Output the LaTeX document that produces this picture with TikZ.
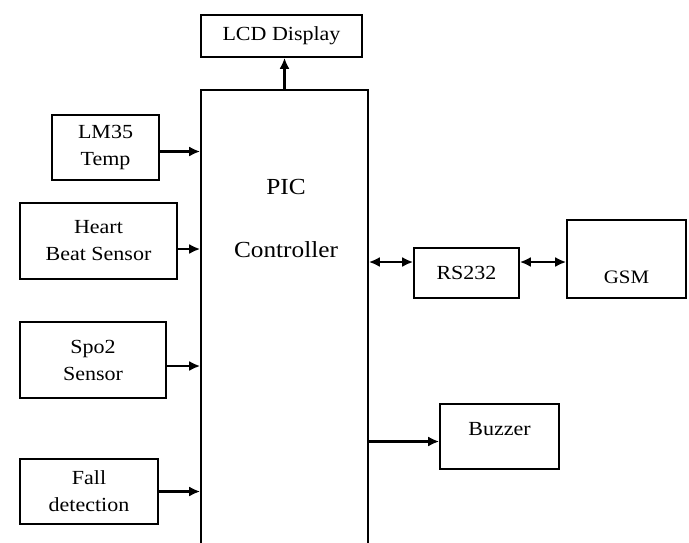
\documentclass[tikz,border=0pt]{standalone}
\usepackage{fontspec}
\setmainfont[FakeStretch=1.1]{Liberation Serif}
\usetikzlibrary{positioning,arrows.meta}
\tikzset{
  blk/.style={draw,line width=1.6pt,fill=white,inner sep=0pt,align=center,
    font=\fontsize{20}{27}\selectfont},
  txt/.style={inner sep=0pt,font=\fontsize{20}{27}\selectfont},
  arr/.style={line width=2.6pt,-{Latex[length=11pt,width=10pt]}},
  darr/.style={line width=2.6pt,{Latex[length=11pt,width=10pt]}-{Latex[length=11pt,width=10pt]}},
}
\begin{document}
\begin{tikzpicture}[x=1pt,y=-1pt]
        \fill[white] (0,0) rectangle (689,542);
        \useasboundingbox (0,0) rectangle (689,542);
        % 中间的控制器,下端超出画面
        \node[blk,minimum width=167,minimum height=520] (pic) at (284.5,350) {};
        \node[txt,font=\fontsize{23}{27}\selectfont] (pictitle) at (286,187) {PIC};
        \node[txt,font=\fontsize{23}{27}\selectfont] (picsub) at (286,250) {Controller};
        \node[blk,minimum width=161,minimum height=42] (lcd) at (281.5,36) {LCD Display};
        % 左边的传感器
        \node[blk,minimum width=107,minimum height=65] (lm35) at (105.5,147.5) {LM35\\Temp};
        \node[blk,minimum width=157,minimum height=76] (heart) at (98.5,241) {Heart\\Beat Sensor};
        \node[blk,minimum width=146,minimum height=76] (spo2) at (93,360) {Spo2\\Sensor};
        \node[blk,minimum width=138,minimum height=65] (fall) at (89,491.5) {Fall\\detection};
        % 右边
        \node[blk,minimum width=105,minimum height=50] (rs232) at (466.5,273) {RS232};
        \node[blk,minimum width=119,minimum height=78] (gsm) at (626.5,259) {};
        \node[txt,font=\fontsize{19}{27}\selectfont] (gsmtxt) at (626.5,277) {GSM};
        \node[blk,minimum width=119,minimum height=65] (buzzer) at (499.5,436.5) {};
        \node[txt] (buzzertxt) at (499.5,429) {Buzzer};
        % 箭头
        \draw[arr] (pic.north) -- (pic.north |- lcd.south);
        \draw[arr] ([yshift=-4pt]lm35.east) -- ([yshift=-4pt]lm35.east -| pic.west);
        \draw[arr] ([yshift=-8pt]heart.east) -- ([yshift=-8pt]heart.east -| pic.west);
        \draw[arr] ([yshift=-6pt]spo2.east) -- ([yshift=-6pt]spo2.east -| pic.west);
        \draw[arr] (fall.east) -- (fall.east -| pic.west);
        \draw[darr] ([yshift=11pt]rs232.west) -- ([yshift=11pt]rs232.west -| pic.east);
        \draw[darr] ([yshift=11pt]rs232.east) -- ([yshift=11pt]rs232.east -| gsm.west);
        \draw[arr] ([yshift=-5pt]buzzer.west -| pic.east) -- ([yshift=-5pt]buzzer.west);
\end{tikzpicture}
\end{document}
